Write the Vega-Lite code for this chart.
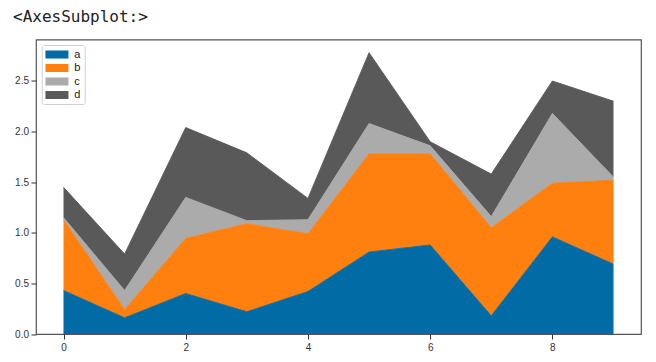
{
  "$schema": "https://vega.github.io/schema/vega-lite/v6.json",
  "width": 605,
  "height": 294.5,
  "autosize": {"type": "none"},
  "padding": {"left": 36, "top": 39.5, "right": 15, "bottom": 28},
  "background": "white",
  "title": {
    "text": "<AxesSubplot:>",
    "anchor": "start",
    "frame": "group",
    "font": "DejaVu Sans Mono",
    "fontSize": 16,
    "fontWeight": "normal",
    "color": "#222222",
    "baseline": "alphabetic",
    "offset": 2,
    "dx": -23
  },
  "config": {
    "view": {"stroke": "#555555", "strokeWidth": 1.2},
    "axis": {
      "labelFont": "Liberation Sans",
      "labelFontSize": 10,
      "labelColor": "#333333",
      "tickColor": "#333333",
      "tickSize": 5,
      "domain": false,
      "grid": false,
      "title": null
    }
  },
  "data": {
    "values": [
      {"x": 0, "series": "a", "v": 0.43}, {"x": 0, "series": "b", "v": 0.70}, {"x": 0, "series": "c", "v": 0.02}, {"x": 0, "series": "d", "v": 0.30},
      {"x": 1, "series": "a", "v": 0.16}, {"x": 1, "series": "b", "v": 0.08}, {"x": 1, "series": "c", "v": 0.19}, {"x": 1, "series": "d", "v": 0.36},
      {"x": 2, "series": "a", "v": 0.40}, {"x": 2, "series": "b", "v": 0.545}, {"x": 2, "series": "c", "v": 0.405}, {"x": 2, "series": "d", "v": 0.69},
      {"x": 3, "series": "a", "v": 0.22}, {"x": 3, "series": "b", "v": 0.87}, {"x": 3, "series": "c", "v": 0.03}, {"x": 3, "series": "d", "v": 0.67},
      {"x": 4, "series": "a", "v": 0.42}, {"x": 4, "series": "b", "v": 0.57}, {"x": 4, "series": "c", "v": 0.14}, {"x": 4, "series": "d", "v": 0.21},
      {"x": 5, "series": "a", "v": 0.81}, {"x": 5, "series": "b", "v": 0.97}, {"x": 5, "series": "c", "v": 0.30}, {"x": 5, "series": "d", "v": 0.70},
      {"x": 6, "series": "a", "v": 0.88}, {"x": 6, "series": "b", "v": 0.90}, {"x": 6, "series": "c", "v": 0.08}, {"x": 6, "series": "d", "v": 0.04},
      {"x": 7, "series": "a", "v": 0.18}, {"x": 7, "series": "b", "v": 0.87}, {"x": 7, "series": "c", "v": 0.11}, {"x": 7, "series": "d", "v": 0.42},
      {"x": 8, "series": "a", "v": 0.96}, {"x": 8, "series": "b", "v": 0.53}, {"x": 8, "series": "c", "v": 0.69}, {"x": 8, "series": "d", "v": 0.32},
      {"x": 9, "series": "a", "v": 0.69}, {"x": 9, "series": "b", "v": 0.83}, {"x": 9, "series": "c", "v": 0.03}, {"x": 9, "series": "d", "v": 0.75}
    ]
  },
  "transform": [
    {"stack": "v", "groupby": ["x"], "sort": [{"field": "series", "order": "ascending"}], "as": ["y0", "y1"]}
  ],
  "encoding": {
    "x": {
      "field": "x", "type": "quantitative",
      "scale": {"domain": [-0.45, 9.45], "nice": false, "zero": false},
      "axis": {"values": [0, 2, 4, 6, 8], "format": "d", "labelPadding": 3}
    },
    "color": {
      "field": "series", "type": "nominal",
      "scale": {"domain": ["a", "b", "c", "d"], "range": ["#006BA4", "#FF800E", "#ABABAB", "#595959"]},
      "legend": {
        "title": null,
        "orient": "none",
        "legendX": 5.7,
        "legendY": 5.5,
        "padding": 3.5,
        "fillColor": "white",
        "strokeColor": "#d0d0d0",
        "cornerRadius": 2,
        "symbolType": "M-1,-0.7H3V0.7H-1Z",
        "symbolSize": 132,
        "symbolStrokeWidth": 0,
        "symbolOpacity": 1,
        "labelFont": "Liberation Sans",
        "labelFontSize": 11,
        "labelColor": "#222222",
        "labelOffset": 17,
        "rowPadding": 2.5
      }
    }
  },
  "layer": [
    {
      "mark": {"type": "area", "opacity": 1, "interpolate": "linear"},
      "encoding": {
        "y": {
          "field": "y1", "type": "quantitative",
          "scale": {"domain": [0, 2.91], "nice": false},
          "axis": {"values": [0, 0.5, 1, 1.5, 2, 2.5], "format": ".1f", "labelPadding": 2.5}
        },
        "y2": {"field": "y0"}
      }
    },
    {
      "mark": {"type": "line", "strokeWidth": 1, "opacity": 0.9},
      "encoding": {
        "y": {"field": "y1", "type": "quantitative"}
      }
    }
  ]
}
